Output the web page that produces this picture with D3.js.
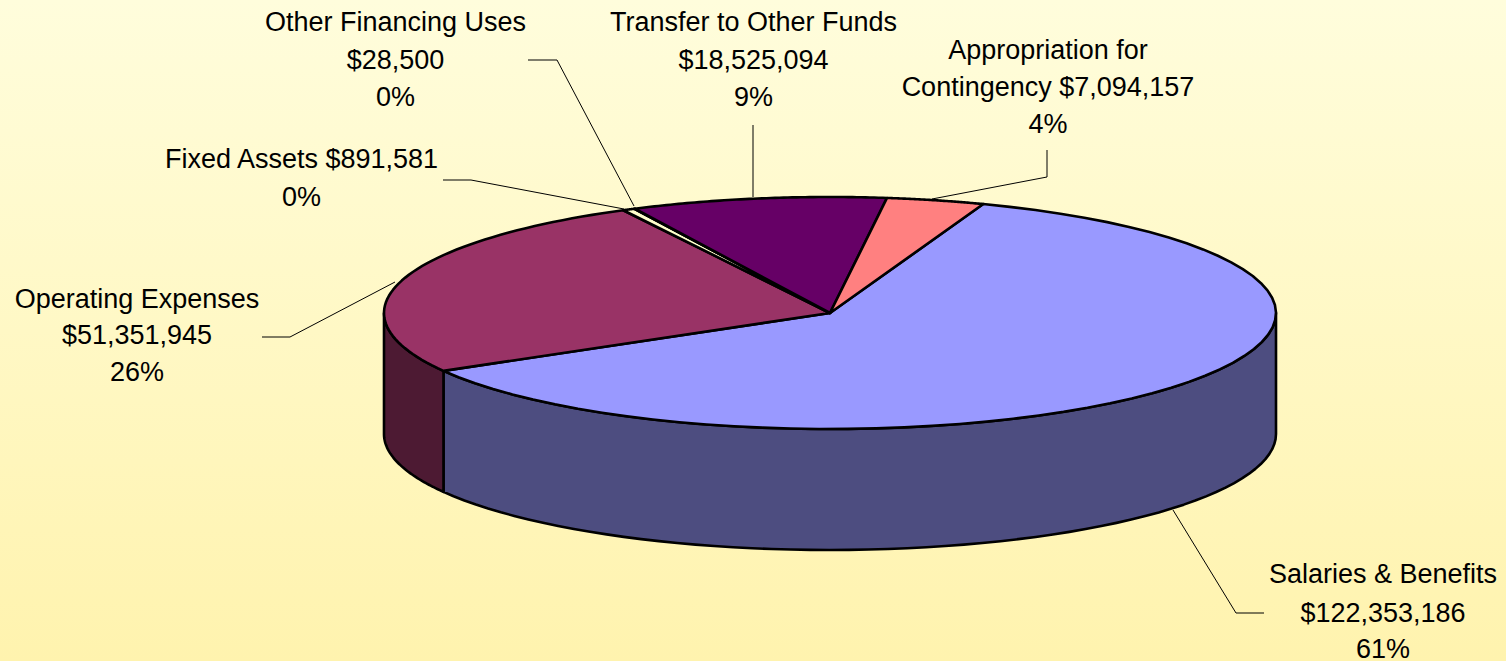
<!DOCTYPE html>
<html><head><meta charset="utf-8">
<script src="https://cdn.jsdelivr.net/npm/d3@7"></script>
<style>html,body{margin:0;padding:0;background:#fff}svg{display:block}text{font-family:"Liberation Sans",Arial,sans-serif;font-size:27px;fill:#000;text-anchor:middle}</style>
</head><body><svg id="c" width="1506" height="661"></svg>
<script>
const categories = ["Salaries & Benefits","Operating Expenses","Fixed Assets","Other Financing Uses","Transfer to Other Funds","Appropriation for Contingency"];
const values = [122353186,51351945,891581,28500,18525094,7094157];
const percents = ["61%","26%","0%","0%","9%","4%"];
const topColors = ["#9999ff","#993366","#ffffcc","#ccffff","#660066","#ff8080"];
const sideColors = ["#4d4d80","#4d1a33","#808066","#668080","#330033","#804040"];

const W=1506,H=661,cx=830,cy=313,rx=446,ry=116,depth=121;
const startDeg=20.1;
const svg=d3.select("#c");
const defs=svg.append("defs");
const g=defs.append("linearGradient").attr("id","bg").attr("x1",0).attr("y1",0).attr("x2",0).attr("y2",1);
g.append("stop").attr("offset",0).attr("stop-color","#fffddc");
g.append("stop").attr("offset",1).attr("stop-color","#fff3ae");
svg.append("rect").attr("width",W).attr("height",H).attr("fill","url(#bg)");

const TAU=Math.PI*2, start=startDeg*Math.PI/180;
const pie=d3.pie().sort(null).startAngle(start).endAngle(start+TAU);
const arcs=pie(values);
const px=a=>cx+rx*Math.sin(a), py=a=>cy-ry*Math.cos(a);
const samples=(a0,a1)=>d3.range(0,61).map(i=>a0+(a1-a0)*i/60);

// side wall
const frontA=Math.PI/2, frontB=3*Math.PI/2;
const wall=svg.append("g");
arcs.forEach((d,i)=>{
  const a0=Math.max(d.startAngle,frontA), a1=Math.min(d.endAngle,frontB);
  if(a1<=a0) return;
  const up=samples(a0,a1).map(a=>[px(a),py(a)]);
  const dn=samples(a1,a0).map(a=>[px(a),py(a)+depth]);
  wall.append("path").attr("d",d3.line()(up.concat(dn))+"Z")
    .attr("fill",sideColors[i]).attr("stroke","#000").attr("stroke-width",2.6).attr("stroke-linejoin","round");
});
// top face
const face=svg.append("g");
arcs.forEach((d,i)=>{
  const pts=[[cx,cy]].concat(samples(d.startAngle,d.endAngle).map(a=>[px(a),py(a)]));
  face.append("path").attr("d",d3.line()(pts)+"Z")
    .attr("fill",topColors[i]).attr("stroke","#000").attr("stroke-width",2.6).attr("stroke-linejoin","round");
});

// leaders & labels (layout only)
const leaders=[
 [[1173,510],[1236,613],[1264,613]],
 [[395,282],[290,337],[262,337]],
 [[624,209],[471,180],[443,180]],
 [[634,206],[557,60],[528,60]],
 [[753,197],[753,125]],
 [[932,199],[1047,177],[1047,150]]
];
const labels=[
 {i:0,x:1383,lines:[["Salaries & Benefits",583],["$122,353,186",622],["61%",658]]},
 {i:1,x:137,lines:[["Operating Expenses",308],["$51,351,945",344],["26%",381]]},
 {i:2,x:301.5,lines:[["Fixed Assets $891,581",168],["0%",206]]},
 {i:3,x:395.5,lines:[["Other Financing Uses",31],["$28,500",69],["0%",106]]},
 {i:4,x:753.5,lines:[["Transfer to Other Funds",31],["$18,525,094",69],["9%",106]]},
 {i:5,x:1048,lines:[["Appropriation for",59],["Contingency $7,094,157",96],["4%",133]]}
];
const lg=svg.append("g");
leaders.forEach(l=>lg.append("path").attr("d",d3.line()(l)).attr("fill","none").attr("stroke","#000").attr("stroke-width",1));
const tg=svg.append("g");
labels.forEach(l=>l.lines.forEach(([t,y])=>tg.append("text").attr("x",l.x).attr("y",y).text(t)));
</script></body></html>
